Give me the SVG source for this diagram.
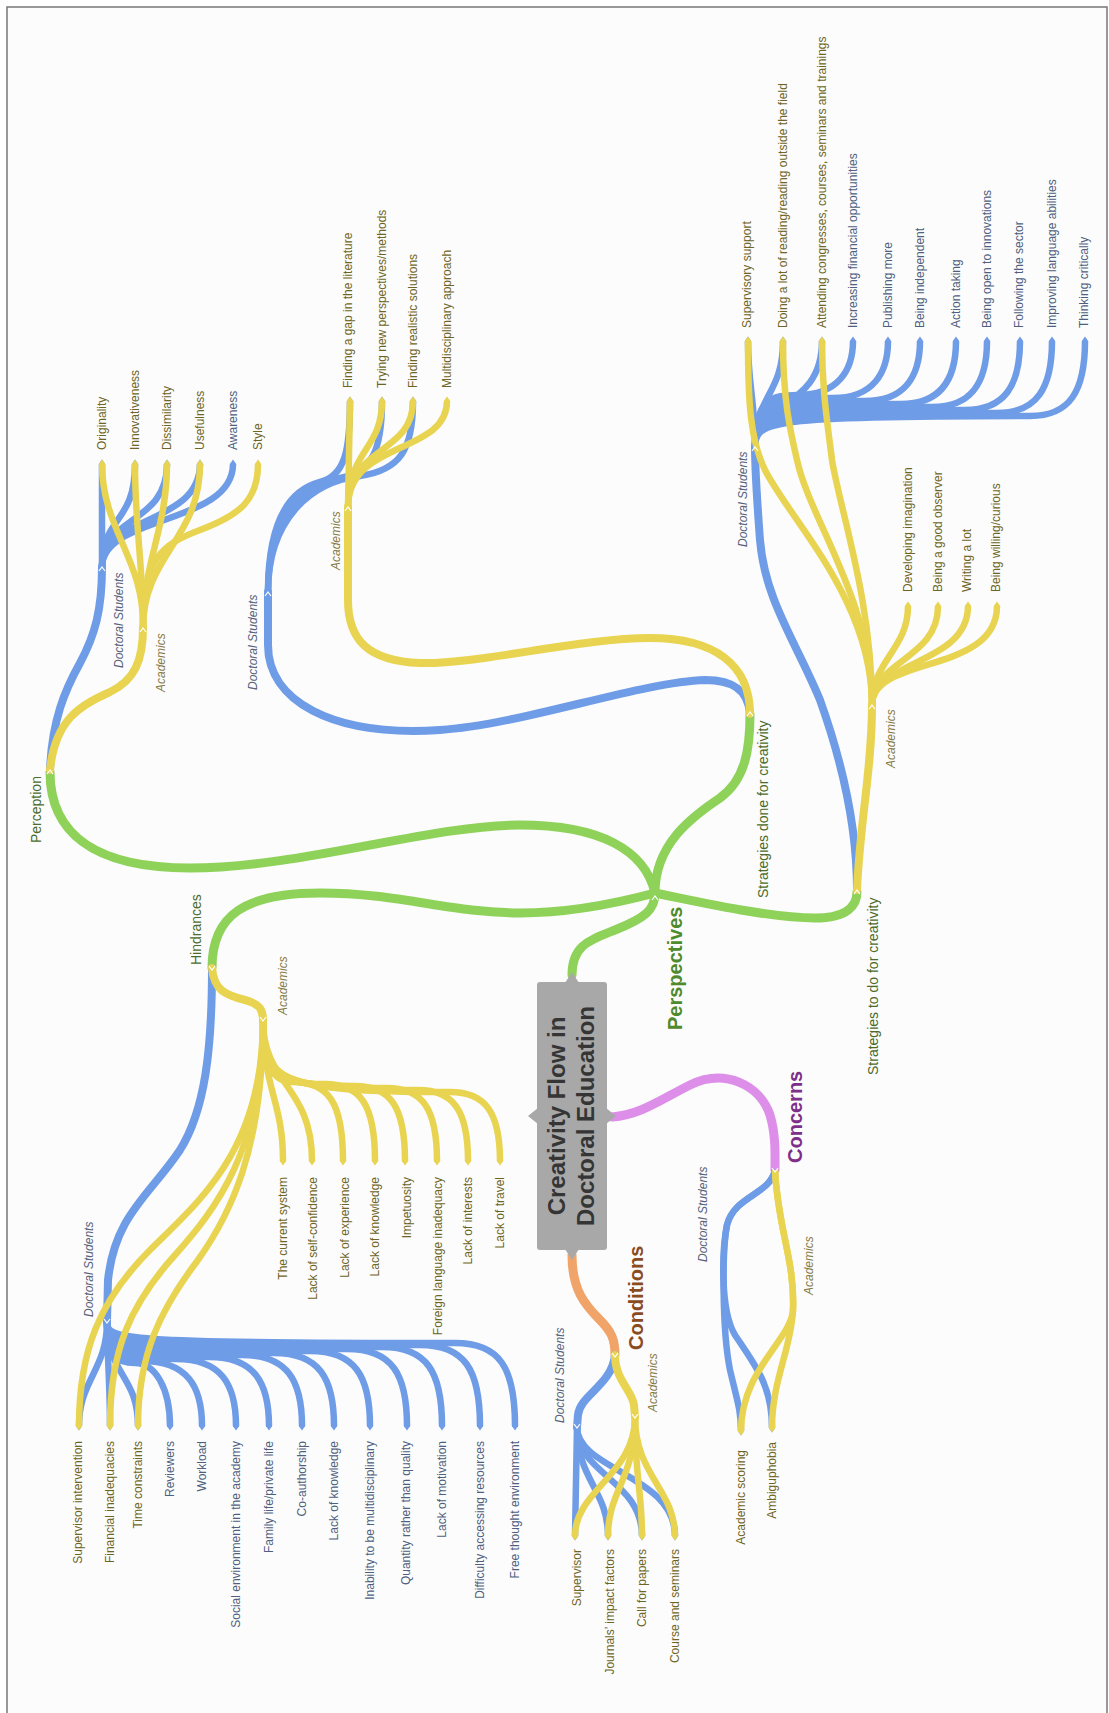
<svg xmlns="http://www.w3.org/2000/svg" width="1109" height="1713" viewBox="0 0 1109 1713">
<defs>
<marker id="mb" viewBox="0 0 6 10" refX="0" refY="5" markerWidth="0.7" markerHeight="1" markerUnits="strokeWidth" orient="auto" preserveAspectRatio="none"><path d="M0,0 L6,5 L0,10 z" fill="#6f9ce6"/></marker>
<marker id="my" viewBox="0 0 6 10" refX="0" refY="5" markerWidth="0.7" markerHeight="1" markerUnits="strokeWidth" orient="auto" preserveAspectRatio="none"><path d="M0,0 L6,5 L0,10 z" fill="#e8d450"/></marker>
<style>
.bt{fill:none;stroke:#6f9ce6;stroke-width:8;stroke-linecap:round}
.bl{fill:none;stroke:#6f9ce6;stroke-width:6.5;marker-end:url(#mb)}
.yt{fill:none;stroke:#e8d450;stroke-width:8;stroke-linecap:round}
.yl{fill:none;stroke:#e8d450;stroke-width:6.5;marker-end:url(#my)}
.g{fill:none;stroke:#8fd25a;stroke-width:9;stroke-linecap:round}
.pk{fill:none;stroke:#dd8ee8;stroke-width:9;stroke-linecap:round}
.or{fill:none;stroke:#f0a46a;stroke-width:9;stroke-linecap:round}
.ch{fill:none;stroke:#ffffff;stroke-width:1.2}
text{font-family:"Liberation Sans",Arial,sans-serif;font-size:12px}
.e{text-anchor:end}
.ty{fill:#6e6524}
.tb{fill:#4e5f80}
.ds{font-style:italic;fill:#56617a}
.ac{font-style:italic;fill:#857a45}
.l2{font-size:14px;fill:#4a6b2a}
.l1{font-size:20px;font-weight:bold}
.title{font-size:24px;font-weight:bold;fill:#353535;text-anchor:middle}
</style>
</defs>
<rect x="0" y="0" width="1109" height="1713" fill="#ffffff"/>
<rect x="7" y="7" width="1100" height="1720" fill="#fcfcfc" stroke="#777777" stroke-width="1.5"/>

<g id="connectors">
<path class="g" d="M572,975 C572,945 590,940 615,930 C645,918 655,910 655,893"/>
<path class="g" d="M655,893 C645,850 600,825 520,825 C430,825 300,868 190,868 C90,868 50,830 50,772"/>
<path class="g" d="M655,893 C655,845 690,818 720,798 C745,780 750,750 750,714"/>
<path class="g" d="M655,893 C700,902 770,918 815,918 C848,918 857,905 857,892"/>
<path class="g" d="M655,893 C610,905 565,913 520,913 C450,913 400,893 320,893 C245,893 212,915 212,968"/>
<path class="pk" d="M612,1117 C640,1115 660,1100 690,1085 C725,1068 760,1085 770,1115 C776,1135 775,1155 775,1170"/>
<path class="or" d="M572,1255 C572,1290 585,1305 600,1320 C612,1332 615,1340 615,1355"/>

<path class="bt" d="M50,770 C52,720 65,690 80,663 C95,635 102,610 102,567"/>
<path class="bl" d="M102,567 L102,464"/>
<path class="bl" d="M102,567 C102,515 135,525 135,464"/>
<path class="bl" d="M102,567 C102,515 167,525 167,464"/>
<path class="bl" d="M102,567 C102,515 200,525 200,464"/>
<path class="bl" d="M102,567 C102,515 233,525 233,464"/>
<path class="bt" d="M750,714 C748,688 730,680 705,680 C640,682 520,725 440,730 C330,737 268,700 268,645 L268,592"/>
<path class="bl" d="M268,592 C268,520 290,490 320,482 C345,476 350,450 350,401"/>
<path class="bl" d="M268,592 C268,520 300,485 340,478 C372,472 382,450 382,401"/>
<path class="bl" d="M268,592 C268,520 310,482 360,476 C400,470 413,450 413,401"/>
<path class="bt" d="M857,890 C857,830 845,770 820,700 C795,640 765,600 760,540 C757,500 755,470 755,447"/>
<path class="bl" d="M755,447 C755,400 748,385 748,341"/>
<path class="bl" d="M755,447 C755,395 783,395 783,341"/>
<path class="bl" d="M755,447 C755,400 822,410 822,341"/>
<path class="bl" d="M755,447 C755,400 770,395 798,395 C838,395 853,370 853,341"/>
<path class="bl" d="M755,447 C755,403 770,398 833,398 C873,398 888,373 888,341"/>
<path class="bl" d="M755,447 C755,406 770,401 865,401 C905,401 920,376 920,341"/>
<path class="bl" d="M755,447 C755,409 770,404 901,404 C941,404 956,379 956,341"/>
<path class="bl" d="M755,447 C755,412 770,407 932,407 C972,407 987,382 987,341"/>
<path class="bl" d="M755,447 C755,415 770,410 965,410 C1005,410 1020,385 1020,341"/>
<path class="bl" d="M755,447 C755,418 770,413 997,413 C1037,413 1052,388 1052,341"/>
<path class="bl" d="M755,447 C755,421 770,416 1030,416 C1070,416 1085,391 1085,341"/>
<path class="bt" d="M212,968 C212,1050 205,1110 180,1150 C150,1195 115,1215 108,1280 L107,1322"/>
<path class="bl" d="M107,1322 C107,1370 79,1380 79,1426"/>
<path class="bl" d="M107,1322 C108,1370 110,1390 110,1426"/>
<path class="bl" d="M107,1322 C107,1375 138,1375 138,1426"/>
<path class="bl" d="M107,1322 C107,1359 118,1363 135,1363 C155,1363 170,1388 170,1426"/>
<path class="bl" d="M107,1322 C107,1357 118,1361 142,1361 C187,1361 202,1386 202,1426"/>
<path class="bl" d="M107,1322 C107,1355 118,1359 176,1359 C221,1359 236,1384 236,1426"/>
<path class="bl" d="M107,1322 C107,1353 118,1357 209,1357 C254,1357 269,1382 269,1426"/>
<path class="bl" d="M107,1322 C107,1351 118,1355 242,1355 C287,1355 302,1380 302,1426"/>
<path class="bl" d="M107,1322 C107,1349 118,1353 274,1353 C319,1353 334,1378 334,1426"/>
<path class="bl" d="M107,1322 C107,1347 118,1351 310,1351 C355,1351 370,1376 370,1426"/>
<path class="bl" d="M107,1322 C107,1345 118,1349 347,1349 C392,1349 407,1374 407,1426"/>
<path class="bl" d="M107,1322 C107,1343 118,1347 382,1347 C427,1347 442,1372 442,1426"/>
<path class="bl" d="M107,1322 C107,1341 118,1345 420,1345 C465,1345 480,1370 480,1426"/>
<path class="bl" d="M107,1322 C107,1339 118,1343 455,1343 C500,1343 515,1368 515,1426"/>
<path class="bl" d="M775,1170 C770,1195 735,1195 727,1225 C722,1250 722,1330 730,1370 C737,1400 741,1410 741,1431"/>
<path class="bl" d="M775,1170 C770,1195 735,1195 727,1225 C722,1250 720,1310 735,1335 C755,1365 772,1385 772,1428"/>
<path class="bt" d="M615,1355 C612,1385 580,1395 578,1415 L577,1427"/>
<path class="bl" d="M577,1427 L575,1536"/>
<path class="bl" d="M577,1427 C577,1480 608,1490 608,1536"/>
<path class="bl" d="M577,1427 C577,1475 642,1480 642,1536"/>
<path class="bl" d="M577,1427 C577,1470 675,1475 675,1536"/>

<path class="yt" d="M50,770 C55,720 80,705 110,692 C135,680 143,660 143,628"/>
<path class="yl" d="M143,628 C145,560 102,530 102,464"/>
<path class="yl" d="M143,628 C143,560 135,530 135,464"/>
<path class="yl" d="M143,628 C143,560 167,530 167,464"/>
<path class="yl" d="M143,628 C143,555 200,540 200,464"/>
<path class="yl" d="M143,628 C143,560 160,545 200,530 C240,515 258,500 258,464"/>
<path class="yt" d="M750,714 C750,665 715,638 650,638 C580,638 475,665 420,663 C368,661 348,640 348,600 L348,507"/>
<path class="yl" d="M348,507 L350,401"/>
<path class="yl" d="M348,507 C348,450 382,450 382,401"/>
<path class="yl" d="M348,507 C348,445 413,455 413,401"/>
<path class="yl" d="M348,507 C348,440 447,455 447,401"/>
<path class="yt" d="M857,890 C860,820 872,770 872,705"/>
<path class="yl" d="M872,705 C872,600 790,520 765,470 C750,440 748,400 748,341"/>
<path class="yl" d="M872,705 C872,600 810,520 797,460 C790,430 783,400 783,341"/>
<path class="yl" d="M872,705 C872,600 840,510 832,460 C827,420 822,390 822,341"/>
<path class="yl" d="M872,705 C872,660 908,650 908,606"/>
<path class="yl" d="M872,705 C872,660 938,660 938,606"/>
<path class="yl" d="M872,705 C872,660 968,665 968,606"/>
<path class="yl" d="M872,705 C872,655 997,675 997,606"/>
<path class="yt" d="M212,968 C214,990 225,995 245,1000 C260,1004 263,1010 263,1020"/>
<path class="yl" d="M263,1020 C263,1090 283,1100 283,1161"/>
<path class="yl" d="M263,1020 C263,1085 312,1085 312,1161"/>
<path class="yl" d="M263,1020 C263,1070 275,1082 293,1082 C328,1082 343,1102 343,1161"/>
<path class="yl" d="M263,1020 C263,1072 275,1084 325,1084 C360,1084 375,1104 375,1161"/>
<path class="yl" d="M263,1020 C263,1074 275,1086 355,1086 C390,1086 405,1106 405,1161"/>
<path class="yl" d="M263,1020 C263,1076 275,1088 387,1088 C422,1088 437,1108 437,1161"/>
<path class="yl" d="M263,1020 C263,1078 275,1090 418,1090 C453,1090 468,1110 468,1161"/>
<path class="yl" d="M263,1020 C263,1080 275,1092 450,1092 C485,1092 500,1112 500,1161"/>
<path class="yl" d="M263,1020 C263,1150 200,1200 150,1250 C100,1300 79,1350 79,1426"/>
<path class="yl" d="M263,1020 C263,1150 215,1210 175,1255 C130,1305 110,1350 110,1426"/>
<path class="yl" d="M263,1020 C263,1150 230,1215 198,1260 C160,1310 138,1355 138,1426"/>
<path class="yl" d="M775,1170 C778,1230 795,1260 793,1310 C791,1340 741,1370 741,1431"/>
<path class="yl" d="M775,1170 C778,1230 795,1260 793,1310 C791,1350 772,1380 772,1428"/>
<path class="yt" d="M615,1355 C615,1380 632,1390 634,1405 L635,1417"/>
<path class="yl" d="M635,1417 C635,1475 575,1490 575,1536"/>
<path class="yl" d="M635,1417 C635,1480 608,1490 608,1536"/>
<path class="yl" d="M635,1417 C635,1480 642,1490 642,1536"/>
<path class="yl" d="M635,1417 C635,1475 675,1490 675,1536"/>

<path class="ch" d="M652,900 L655,896 L658,900"/>
<path class="ch" d="M47,774 L50,770 L53,774"/>
<path class="ch" d="M747,716 L750,712 L753,716"/>
<path class="ch" d="M854,894 L857,890 L860,894"/>
<path class="ch" d="M99,571 L102,567 L105,571"/>
<path class="ch" d="M140,632 L143,628 L146,632"/>
<path class="ch" d="M265,596 L268,592 L271,596"/>
<path class="ch" d="M345,511 L348,507 L351,511"/>
<path class="ch" d="M752,451 L755,447 L758,451"/>
<path class="ch" d="M869,709 L872,705 L875,709"/>
<path class="ch" d="M209,966 L212,970 L215,966"/>
<path class="ch" d="M260,1017 L263,1021 L266,1017"/>
<path class="ch" d="M104,1319 L107,1323 L110,1319"/>
<path class="ch" d="M772,1168 L775,1172 L778,1168"/>
<path class="ch" d="M612,1353 L615,1357 L618,1353"/>
<path class="ch" d="M632,1414 L635,1418 L638,1414"/>
<path class="ch" d="M574,1424 L577,1428 L580,1424"/>
</g>

<g id="center">
<path d="M565,983 L572,972 L579,983 z M565,1249 L572,1260 L579,1249 z M538,1108 L528,1116 L538,1124 z M606,1108 L616,1116 L606,1124 z" fill="#a8a8a8"/>
<rect x="537" y="982" width="70" height="268" rx="3" fill="#a8a8a8"/>
<text class="title" transform="translate(565,1116) rotate(-90)">Creativity Flow in</text>
<text class="title" transform="translate(594,1116) rotate(-90)">Doctoral Education</text>
</g>

<g id="perspectives"><text class="l1" fill="#4f8a2c" transform="translate(682,1030) rotate(-90)">Perspectives</text></g>
<g id="conditions"><text class="l1" fill="#8a4b1f" transform="translate(643,1350) rotate(-90)">Conditions</text></g>
<g id="concerns"><text class="l1" fill="#7d2f8a" transform="translate(802,1163) rotate(-90)">Concerns</text></g>

<g id="perception"><text class="l2" transform="translate(41,843) rotate(-90)">Perception</text></g>
<g id="hindrances"><text class="l2" transform="translate(201,965) rotate(-90)">Hindrances</text></g>
<g id="strategies-done"><text class="l2" transform="translate(768,898) rotate(-90)">Strategies done for creativity</text></g>
<g id="strategies-to-do"><text class="l2" transform="translate(878,1075) rotate(-90)">Strategies to do for creativity</text></g>

<g id="perception-ds"><text class="ds" transform="translate(123,668) rotate(-90)">Doctoral Students</text></g>
<g id="perception-ac"><text class="ac" transform="translate(165,692) rotate(-90)">Academics</text></g>
<g id="sdone-ds"><text class="ds" transform="translate(257,690) rotate(-90)">Doctoral Students</text></g>
<g id="sdone-ac"><text class="ac" transform="translate(340,570) rotate(-90)">Academics</text></g>
<g id="sdo-ds"><text class="ds" transform="translate(747,547) rotate(-90)">Doctoral Students</text></g>
<g id="sdo-ac"><text class="ac" transform="translate(895,768) rotate(-90)">Academics</text></g>
<g id="hind-ds"><text class="ds" transform="translate(93,1317) rotate(-90)">Doctoral Students</text></g>
<g id="hind-ac"><text class="ac" transform="translate(287,1015) rotate(-90)">Academics</text></g>
<g id="conc-ds"><text class="ds" transform="translate(707,1262) rotate(-90)">Doctoral Students</text></g>
<g id="conc-ac"><text class="ac" transform="translate(813,1295) rotate(-90)">Academics</text></g>
<g id="cond-ds"><text class="ds" transform="translate(564,1423) rotate(-90)">Doctoral Students</text></g>
<g id="cond-ac"><text class="ac" transform="translate(657,1412) rotate(-90)">Academics</text></g>

<g id="n-originality"><text class="ty" transform="translate(106,450) rotate(-90)">Originality</text></g>
<g id="n-innovativeness"><text class="ty" transform="translate(139,450) rotate(-90)">Innovativeness</text></g>
<g id="n-dissimilarity"><text class="ty" transform="translate(171,450) rotate(-90)">Dissimilarity</text></g>
<g id="n-usefulness"><text class="ty" transform="translate(204,450) rotate(-90)">Usefulness</text></g>
<g id="n-awareness"><text class="tb" transform="translate(237,450) rotate(-90)">Awareness</text></g>
<g id="n-style"><text class="ty" transform="translate(262,450) rotate(-90)">Style</text></g>

<g id="n-gap"><text class="ty" transform="translate(352,388) rotate(-90)">Finding a gap in the literature</text></g>
<g id="n-trying"><text class="ty" transform="translate(386,388) rotate(-90)">Trying new perspectives/methods</text></g>
<g id="n-realistic"><text class="ty" transform="translate(417,388) rotate(-90)">Finding realistic solutions</text></g>
<g id="n-multi"><text class="ty" transform="translate(451,388) rotate(-90)">Multidisciplinary approach</text></g>

<g id="n-supsupport"><text class="ty" transform="translate(751,328) rotate(-90)">Supervisory support</text></g>
<g id="n-reading"><text class="ty" transform="translate(787,328) rotate(-90)">Doing a lot of reading/reading outside the field</text></g>
<g id="n-attending"><text class="ty" transform="translate(826,328) rotate(-90)">Attending congresses, courses, seminars and trainings</text></g>
<g id="n-financial-opp"><text class="tb" transform="translate(857,328) rotate(-90)">Increasing financial opportunities</text></g>
<g id="n-publishing"><text class="tb" transform="translate(892,328) rotate(-90)">Publishing more</text></g>
<g id="n-independent"><text class="tb" transform="translate(924,328) rotate(-90)">Being independent</text></g>
<g id="n-action"><text class="tb" transform="translate(960,328) rotate(-90)">Action taking</text></g>
<g id="n-open"><text class="tb" transform="translate(991,328) rotate(-90)">Being open to innovations</text></g>
<g id="n-sector"><text class="tb" transform="translate(1023,328) rotate(-90)">Following the sector</text></g>
<g id="n-language"><text class="tb" transform="translate(1056,328) rotate(-90)">Improving language abilities</text></g>
<g id="n-critical"><text class="tb" transform="translate(1088,328) rotate(-90)">Thinking critically</text></g>
<g id="n-imagination"><text class="ty" transform="translate(912,592) rotate(-90)">Developing imagination</text></g>
<g id="n-observer"><text class="ty" transform="translate(942,592) rotate(-90)">Being a good observer</text></g>
<g id="n-writing"><text class="ty" transform="translate(971,592) rotate(-90)">Writing a lot</text></g>
<g id="n-curious"><text class="ty" transform="translate(1000,592) rotate(-90)">Being willing/curious</text></g>

<g id="n-system"><text class="ty e" transform="translate(287,1177) rotate(-90)">The current system</text></g>
<g id="n-selfconf"><text class="ty e" transform="translate(317,1177) rotate(-90)">Lack of self-confidence</text></g>
<g id="n-experience"><text class="ty e" transform="translate(349,1177) rotate(-90)">Lack of experience</text></g>
<g id="n-knowledge-a"><text class="ty e" transform="translate(379,1177) rotate(-90)">Lack of knowledge</text></g>
<g id="n-impetuosity"><text class="ty e" transform="translate(411,1177) rotate(-90)">Impetuosity</text></g>
<g id="n-foreign"><text class="ty e" transform="translate(442,1177) rotate(-90)">Foreign language inadequacy</text></g>
<g id="n-interests"><text class="ty e" transform="translate(472,1177) rotate(-90)">Lack of interests</text></g>
<g id="n-travel"><text class="ty e" transform="translate(504,1177) rotate(-90)">Lack of travel</text></g>
<g id="n-supint"><text class="ty e" transform="translate(82,1441) rotate(-90)">Supervisor intervention</text></g>
<g id="n-fininad"><text class="ty e" transform="translate(114,1441) rotate(-90)">Financial inadequacies</text></g>
<g id="n-time"><text class="ty e" transform="translate(142,1441) rotate(-90)">Time constraints</text></g>
<g id="n-reviewers"><text class="tb e" transform="translate(174,1441) rotate(-90)">Reviewers</text></g>
<g id="n-workload"><text class="tb e" transform="translate(206,1441) rotate(-90)">Workload</text></g>
<g id="n-social"><text class="tb e" transform="translate(240,1441) rotate(-90)">Social environment in the academy</text></g>
<g id="n-family"><text class="tb e" transform="translate(273,1441) rotate(-90)">Family life/private life</text></g>
<g id="n-coauth"><text class="tb e" transform="translate(306,1441) rotate(-90)">Co-authorship</text></g>
<g id="n-knowledge-d"><text class="tb e" transform="translate(338,1441) rotate(-90)">Lack of knowledge</text></g>
<g id="n-inability"><text class="tb e" transform="translate(374,1441) rotate(-90)">Inability to be multidisciplinary</text></g>
<g id="n-quantity"><text class="tb e" transform="translate(410,1441) rotate(-90)">Quantity rather than quality</text></g>
<g id="n-motivation"><text class="tb e" transform="translate(446,1441) rotate(-90)">Lack of motivation</text></g>
<g id="n-difficulty"><text class="tb e" transform="translate(484,1441) rotate(-90)">Difficulty accessing resources</text></g>
<g id="n-freethought"><text class="tb e" transform="translate(519,1441) rotate(-90)">Free thought environment</text></g>

<g id="n-supervisor"><text class="ty e" transform="translate(581,1549) rotate(-90)">Supervisor</text></g>
<g id="n-journals"><text class="ty e" transform="translate(614,1549) rotate(-90)">Journals’ impact factors</text></g>
<g id="n-call"><text class="ty e" transform="translate(646,1549) rotate(-90)">Call for papers</text></g>
<g id="n-course"><text class="ty e" transform="translate(679,1549) rotate(-90)">Course and seminars</text></g>

<g id="n-scoring"><text class="ty e" transform="translate(745,1450) rotate(-90)">Academic scoring</text></g>
<g id="n-ambiguphobia"><text class="ty e" transform="translate(776,1442) rotate(-90)">Ambiguphobia</text></g>
</svg>
